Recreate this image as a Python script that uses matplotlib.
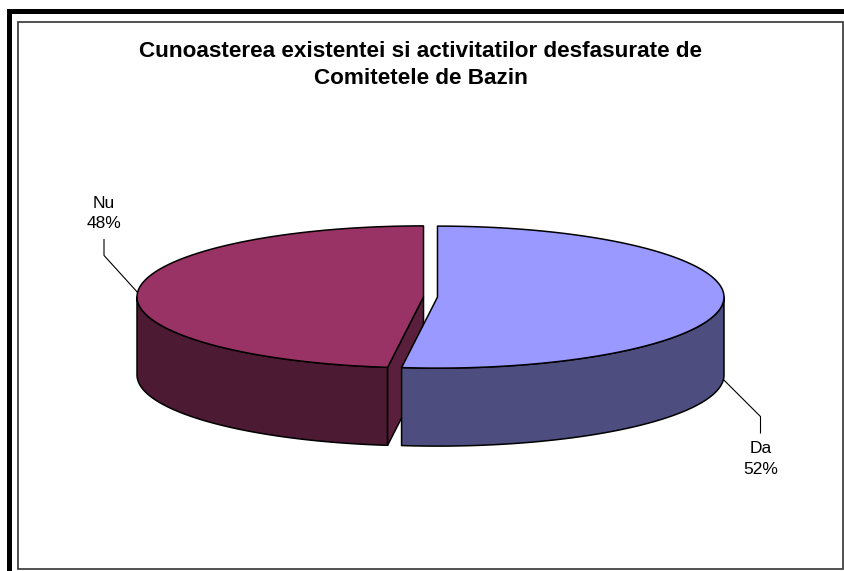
import numpy as np
import matplotlib
matplotlib.use("Agg")
import matplotlib.pyplot as plt
from matplotlib.patches import Polygon, Rectangle

# ---- data ----
categories = ["Da", "Nu"]
values = [52, 48]
top_colors = ["#9999FF", "#993366"]
side_colors = ["#4D4D80", "#4D1A33"]
cut_colors = ["#5A5A96", "#5A1F3C"]
title = "Cunoasterea existentei si activitatilor desfasurate de\nComitetele de Bazin"

plt.rcParams['font.family'] = ['Liberation Sans', 'DejaVu Sans']

W, H = 845, 571
fig = plt.figure(figsize=(W / 100, H / 100), dpi=100)
ax = fig.add_axes([0, 0, 1, 1])
ax.set_xlim(0, W)
ax.set_ylim(H, 0)
ax.axis('off')

# frames
ax.add_patch(Rectangle((7, 9), W - 7, 5, facecolor='black', edgecolor='none'))
ax.add_patch(Rectangle((7, 9), 5, H - 9, facecolor='black', edgecolor='none'))
ax.add_patch(Rectangle((18, 21.5), 825.5, 547, facecolor='white', edgecolor='#333333', lw=1.2))

ax.text(421, 65, title, ha='center', va='center', fontsize=16.2, fontweight='bold',
        linespacing=1.38)

# ---- 3D pie geometry ----
cx, cy = 430.5, 297.0
a, b = 286.5, 71.0
depth = 78.0
explode = 7.0

total = float(sum(values))
angles = []
start = 90.0
for v in values:
    span = 360.0 * v / total
    angles.append((start - span, start))  # clockwise from 12 o'clock
    start -= span


def rim(t_deg, ox, oy, dz=0.0):
    t = np.radians(t_deg)
    return cx + ox + a * np.cos(t), cy + oy - b * np.sin(t) + dz


def contains_front(t1, t2):
    for k in range(-2, 3):
        if t1 <= 270 + 360 * k <= t2:
            return True
    return False


order = sorted(range(len(values)), key=lambda i: contains_front(*angles[i]))
anchors = {}
for i in order:
    t1, t2 = angles[i]
    m = 0.5 * (t1 + t2)
    ox = explode * np.cos(np.radians(m))
    oy = -explode * np.sin(np.radians(m)) * b / a
    ccx, ccy = cx + ox, cy + oy
    # outer wall: front half (sin t < 0)
    for k in range(-2, 3):
        lo = max(t1, 180 + 360 * k)
        hi = min(t2, 360 + 360 * k)
        if hi > lo:
            ts = np.linspace(lo, hi, 120)
            top = [rim(t, ox, oy) for t in ts]
            bot = [rim(t, ox, oy, depth) for t in ts[::-1]]
            ax.add_patch(Polygon(top + bot, closed=True, facecolor=side_colors[i],
                                 edgecolor='black', lw=1.1, joinstyle='round'))
    # cut faces visible toward viewer
    for t_edge, sign in ((t1, -1), (t2, 1)):
        nrm = t_edge + sign * 90
        if np.sin(np.radians(nrm)) < 0:
            p = rim(t_edge, ox, oy)
            pb = rim(t_edge, ox, oy, depth)
            ax.add_patch(Polygon([(ccx, ccy), p, pb, (ccx, ccy + depth)], closed=True,
                                 facecolor=cut_colors[i], edgecolor='black', lw=1.1))
    ts = np.linspace(t1, t2, 240)
    pts = [(ccx, ccy)] + [rim(t, ox, oy) for t in ts]
    ax.add_patch(Polygon(pts, closed=True, facecolor=top_colors[i], edgecolor='black',
                         lw=1.1, joinstyle='round'))
    if np.cos(np.radians(m)) >= 0:
        anchors[i] = rim(m, ox, oy, depth)
    else:
        anchors[i] = rim(m, ox, oy)

# ---- labels with leader lines ----
label_pos = {0: (760.5, 459), 1: (104, 213.5)}
for i in range(len(values)):
    ax_, ay_ = anchors[i]
    lx, ly = label_pos[i]
    txt = f"{categories[i]}\n{values[i]:.0f}%"
    ax.text(lx, ly, txt, ha='center', va='center', fontsize=12.5, linespacing=1.5)
    if lx > cx:
        pts = [(ax_, ay_), (lx, ay_ + 37), (lx, ly - 26)]
    else:
        pts = [(ax_, ay_), (lx, ay_ - 37), (lx, ly + 26)]
    xs, ys = zip(*pts)
    ax.plot(xs, ys, color='black', lw=0.8)

fig.savefig("out.png", dpi=100)
